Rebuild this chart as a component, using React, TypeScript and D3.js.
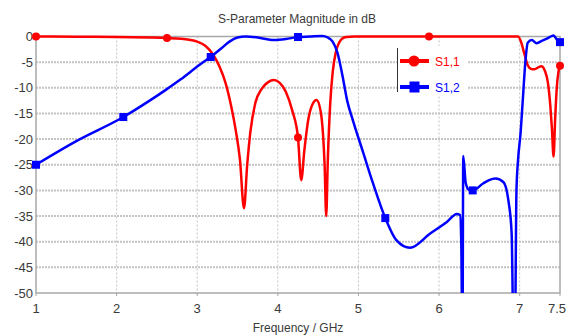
import React from "react";
import * as d3 from "d3";

const W = 567;
const H = 335;

const xTicks = [1, 2, 3, 4, 5, 6, 7, 7.5];
const yTicks = [0, -5, -10, -15, -20, -25, -30, -35, -40, -45, -50];

// S1,1 (red) frequency / dB
const s11Freq = [1, 1.5, 2, 2.4, 2.625, 2.8, 2.9, 3.0, 3.1, 3.2, 3.28, 3.35, 3.42, 3.48, 3.53, 3.58, 3.62, 3.66, 3.72, 3.8, 3.88, 3.95, 4.02, 4.1, 4.18, 4.25, 4.29, 4.33, 4.38, 4.43, 4.48, 4.53, 4.56, 4.58, 4.6, 4.62, 4.65, 4.68, 4.72, 4.76, 4.8, 4.85, 4.95, 5.5, 5.875, 6.5, 6.98, 7.02, 7.06, 7.1, 7.14, 7.18, 7.22, 7.27, 7.31, 7.35, 7.38, 7.4, 7.42, 7.44, 7.46, 7.48, 7.5];
const s11Db = [0, -0.05, -0.1, -0.2, -0.3, -0.45, -0.65, -1.0, -1.8, -3.6, -6, -9, -13.5, -18.5, -24, -33.5, -25, -18.5, -13, -10.2, -8.9, -8.5, -9.0, -10.8, -14.5, -19.7, -28, -22, -16, -13.2, -12.4, -14.5, -19, -25, -35, -24, -13, -7, -3, -1.2, -0.4, -0.1, 0, 0, 0, 0, 0, -1.2, -3.5, -5.6, -6.3, -6.4, -6.1, -5.8, -6.6, -9, -13.5, -18, -23.4, -16, -10, -7, -5.7];

// S1,2 (blue) frequency / dB
const s12Freq = [1, 1.5, 2.083, 2.4, 2.61, 2.8, 3.03, 3.167, 3.3, 3.4, 3.5, 3.6, 3.75, 3.95, 4.1, 4.25, 4.4, 4.55, 4.62, 4.68, 4.74, 4.8, 4.86, 4.93, 5.06, 5.18, 5.333, 5.47, 5.64, 5.89, 6.1, 6.22, 6.26, 6.275, 6.29, 6.3, 6.33, 6.37, 6.417, 6.55, 6.62, 6.7, 6.8, 6.86, 6.9, 6.925, 6.94, 6.96, 6.98, 7.01, 7.04, 7.07, 7.1, 7.15, 7.21, 7.28, 7.35, 7.42, 7.46, 7.5];
const s12Db = [-25, -20.4, -15.7, -12.6, -10.4, -8.3, -5.5, -4, -2.3, -1.0, -0.2, 0, -0.2, -0.7, -0.5, -0.1, 0, 0.1, -0.2, -1, -3.2, -7.5, -12.5, -16.3, -22.7, -28.6, -35.4, -39.7, -41.2, -38.4, -36.1, -34.6, -34.8, -40, -60, -23.3, -28.5, -29.9, -30, -28.6, -28.0, -27.7, -28.4, -32, -38.3, -60, -60, -30, -24, -19, -12, -5, -1.2, -0.7, -1.3, -0.8, -0.3, 0.2, -0.6, -1.1];

const s11MarkerFreq = [1, 2.625, 4.25, 5.875, 7.5];
const s11MarkerDb = [0, -0.3, -19.7, 0, -5.7];
const s12MarkerFreq = [1, 2.083, 3.167, 4.25, 5.333, 6.417, 7.5];
const s12MarkerDb = [-25, -15.7, -4, -0.1, -35.4, -30, -1.1];

const RED = "#ff0000";
const BLUE = "#0000ff";
const TXT = "#3a3a3a";
const FONT = "'Liberation Sans', Arial, sans-serif";

export default function App() {
  const left = 36, right = 560, top = 36.5, bottom = 293;
  const x = d3.scaleLinear().domain([1, 7.5]).range([left, right]);
  const y = d3.scaleLinear().domain([-50, 0]).range([bottom, top]);

  const line = d3
    .line<[number, number]>()
    .x((d) => x(d[0]))
    .y((d) => y(d[1]))
    .curve(d3.curveMonotoneX);

  const s11 = s11Freq.map((f, i) => [f, s11Db[i]] as [number, number]);
  const s12 = s12Freq.map((f, i) => [f, s12Db[i]] as [number, number]);

  return (
    <svg
      width={W}
      height={H}
      style={{ position: "absolute", left: 0, top: 0, background: "#fff" }}
    >
      <defs>
        <clipPath id="plotClip">
          <rect x={left - 6} y={top - 6} width={right - left + 12} height={bottom - top + 6} />
        </clipPath>
      </defs>
      <text x={297} y={23} textAnchor="middle" fontFamily={FONT} fontSize={12} fill={TXT}>
        S-Parameter Magnitude in dB
      </text>

      {/* horizontal grid */}
      {yTicks
        .filter((t) => t !== 0 && t !== -50)
        .map((t) => (
          <line key={"hg" + t} x1={left} x2={right} y1={y(t)} y2={y(t)} stroke="#c4c4c4" strokeWidth={2} strokeDasharray="2,1" />
        ))}
      {/* vertical grid */}
      {xTicks
        .filter((t) => t !== 1 && t !== 7.5)
        .map((t) => (
          <line key={"vg" + t} x1={x(t)} x2={x(t)} y1={top} y2={bottom + 3} stroke="#c4c4c4" strokeWidth={1} strokeDasharray="2,2" />
        ))}
      {/* frame */}
      <rect x={left} y={top} width={right - left} height={bottom - top} fill="none" stroke="#a8a8a8" strokeWidth={1.5} />

      {/* ticks */}
      {xTicks.map((t) => (
        <g key={"xt" + t}>
          <line x1={x(t)} x2={x(t)} y1={bottom} y2={bottom + 3} stroke="#a8a8a8" />
          <text
            x={t === 7.5 ? 566 : x(t)}
            y={bottom + 20}
            textAnchor={t === 7.5 ? "end" : "middle"}
            fontFamily={FONT}
            fontSize={13}
            fill={TXT}
          >
            {t}
          </text>
        </g>
      ))}
      {yTicks.map((t) => (
        <text key={"yt" + t} x={33} y={y(t) + 4.5} textAnchor="end" fontFamily={FONT} fontSize={13} fill={TXT}>
          {t}
        </text>
      ))}
      <text x={298} y={331.5} textAnchor="middle" fontFamily={FONT} fontSize={12} fill={TXT}>
        Frequency / GHz
      </text>

      {/* curves */}
      <g clipPath="url(#plotClip)">
        <path d={line(s11) || ""} fill="none" stroke={RED} strokeWidth={2.5} strokeLinejoin="round" />
        <path d={line(s12) || ""} fill="none" stroke={BLUE} strokeWidth={2.5} strokeLinejoin="round" />
        {s11MarkerFreq.map((f, i) => (
          <circle key={"m11" + i} cx={x(f)} cy={y(s11MarkerDb[i])} r={4} fill={RED} />
        ))}
        {s12MarkerFreq.map((f, i) => (
          <rect key={"m12" + i} x={x(f) - 4} y={y(s12MarkerDb[i]) - 4} width={8} height={8} fill={BLUE} />
        ))}
      </g>

      {/* legend */}
      <rect x={397} y={46} width={71} height={50} fill="#fff" />
      <line x1={397.5} x2={397.5} y1={48} y2={92} stroke="#333" strokeWidth={1} />
      <line x1={400} x2={429} y1={61} y2={61} stroke={RED} strokeWidth={4} />
      <circle cx={414} cy={61} r={5.5} fill={RED} />
      <text x={435} y={65.5} fontFamily={FONT} fontSize={12} fill={RED}>S1,1</text>
      <line x1={400} x2={429} y1={87} y2={87} stroke={BLUE} strokeWidth={4} />
      <rect x={409.5} y={81.5} width={10} height={11} fill={BLUE} />
      <text x={435} y={91.5} fontFamily={FONT} fontSize={12} fill={BLUE}>S1,2</text>
    </svg>
  );
}
